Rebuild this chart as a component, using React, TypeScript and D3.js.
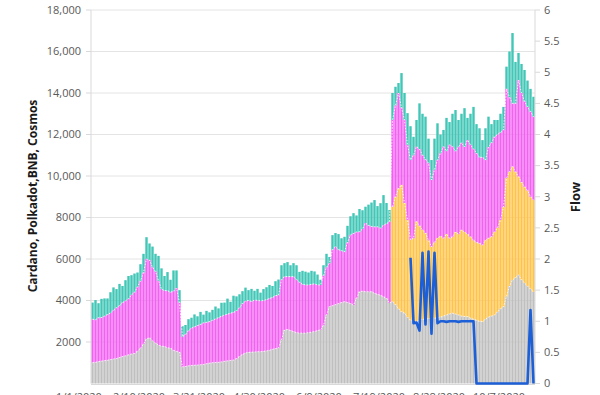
import React, { useEffect, useRef } from 'react'
import * as d3 from 'd3'

// one bar every 2 days
const firstDay = '1/9/2020'
const dayStep = 2

const grayVals = [
  1000, 1020, 1050, 1080, 1100, 1120, 1150, 1180, 1200, 1250,
  1300, 1330, 1380, 1420, 1450, 1550, 1700, 1900, 2150, 2200,
  2050, 1950, 1850, 1800, 1780, 1720, 1700, 1600, 1550, 1500,
  800, 820, 850, 870, 880, 890, 900, 920, 950, 980,
  1000, 1010, 1020, 1040, 1070, 1090, 1110, 1130, 1200, 1300,
  1400, 1470, 1500, 1510, 1520, 1530, 1530, 1550, 1570, 1600,
  1650, 1680, 1710, 2100, 2580, 2600, 2550, 2500, 2450, 2430,
  2430, 2430, 2450, 2480, 2500, 2550, 2580, 2800, 3300, 3700,
  3750, 3800, 3850, 3900, 3940, 3900, 3850, 3780, 4100, 4420,
  4450, 4420, 4420, 4420, 4350, 4300, 4250, 4180, 4100, 3880,
  3940, 3800, 3600, 3450, 3390, 3200, 3050, 2980, 3000, 3050,
  3100, 3100, 3120, 3150, 3150, 3180, 3200, 3250, 3300, 3350,
  3390, 3350, 3300, 3250, 3230, 3220, 3150, 3100, 3050, 3000,
  2980, 3100, 3200, 3250, 3300, 3450, 3600, 3700, 4200, 4700,
  4990, 5100, 5230, 5000, 4840, 4700, 4550, 4420
]

const orangeVals = [
  0, 0, 0, 0, 0, 0, 0, 0, 0, 0,
  0, 0, 0, 0, 0, 0, 0, 0, 0, 0,
  0, 0, 0, 0, 0, 0, 0, 0, 0, 0,
  0, 0, 0, 0, 0, 0, 0, 0, 0, 0,
  0, 0, 0, 0, 0, 0, 0, 0, 0, 0,
  0, 0, 0, 0, 0, 0, 0, 0, 0, 0,
  0, 0, 0, 0, 0, 0, 0, 0, 0, 0,
  0, 0, 0, 0, 0, 0, 0, 0, 0, 0,
  0, 0, 0, 0, 0, 0, 0, 0, 0, 0,
  0, 0, 0, 0, 0, 0, 0, 0, 0, 0,
  4580, 5200, 5800, 6120, 5310, 4680, 3870, 4020, 4800, 4550,
  4300, 4150, 3780, 3440, 3650, 3830, 3900, 3750, 3900, 3650,
  3680, 3950, 3900, 4150, 4070, 3980, 3920, 3800, 3750, 3750,
  3690, 3800, 3800, 3820, 4000, 4050, 4280, 4800, 5700, 5500,
  5460, 5100, 4740, 4700, 4640, 4600, 4450, 4420
]

const magentaVals = [
  2100, 2050, 2120, 2100, 2150, 2200, 2250, 2350, 2450, 2500,
  2600, 2650, 2700, 2850, 2950, 3100, 3250, 3450, 3850, 3750,
  3550, 3450, 3100, 2750, 2700, 2750, 2700, 2850, 3050, 2400,
  1460, 1550, 1700, 1800, 1850, 1900, 1950, 2000, 2000, 2000,
  2050, 2100, 2150, 2200, 2230, 2250, 2280, 2300, 2300, 2350,
  2450, 2500, 2500, 2450, 2500, 2480, 2450, 2450, 2470, 2500,
  2500, 2550, 2550, 2900, 2570, 2550, 2600, 2650, 2550, 2450,
  2350, 2320, 2300, 2300, 2300, 2200, 2170, 2400, 2300, 2100,
  2700, 2790, 2600, 2500, 2410, 2900, 3310, 3450, 3200, 2890,
  3000, 3310, 3200, 3150, 3200, 3250, 3240, 3450, 3600, 3920,
  4180, 4400, 4600, 3730, 4000, 3620, 3850, 4000, 3610, 3700,
  3600, 3550, 3720, 3220, 3500, 3760, 4000, 4410, 4000, 4500,
  4340, 3900, 4210, 4200, 4100, 4530, 4430, 4400, 4300, 4150,
  4230, 3870, 4400, 4530, 4590, 4500, 4220, 3720, 4300, 3600,
  3050, 3300, 4650, 4300, 4120, 4030, 4100, 4020
]

const tealVals = [
  800, 950, 700, 900, 850, 780, 1000, 1100, 900, 1050,
  800, 1000, 1100, 950, 900, 700, 800, 900, 1050, 800,
  1000, 850, 1200, 1000, 700, 900, 600, 1000, 850, 600,
  500, 450, 550, 500, 600, 450, 600, 400, 550, 450,
  500, 600, 450, 650, 600, 750, 550, 800, 700, 650,
  600, 650, 500, 600, 450, 550, 400, 550, 600, 650,
  550, 700, 750, 700, 650, 700, 550, 650, 700, 500,
  650, 640, 600, 650, 600, 500, 250, 500, 650, 300,
  700, 660, 750, 600, 720, 800, 900, 980, 800, 1100,
  900, 790, 1000, 1150, 1290, 1000, 1200, 1450, 1000, 560,
  1300, 900, 480, 1660, 1300, 1530, 1630, 890, 1290, 2200,
  2000, 2060, 1180, 960, 1500, 1770, 900, 810, 1600, 1100,
  1590, 1980, 1290, 1400, 1870, 1070, 1500, 2030, 1400, 1400,
  830, 1530, 1460, 900, 810, 700, 900, 1110, 1070, 2200,
  3390, 2000, 1310, 1400, 1510, 1270, 1100, 960
]

// flow only starts at bar 106
const flowFrom = 106
const flowVals = [
  2.02, 0.97, 0.98, 0.85, 2.1, 0.95, 2.12, 0.8, 2.1, 0.97,
  1.0, 1.0, 0.99, 1.0, 1.0, 1.0, 0.99, 1.0, 1.0, 1.0,
  1.0, 1.0, 0, 0, 0, 0, 0, 0, 0, 0,
  0, 0, 0, 0, 0, 0, 0, 0, 0, 0,
  1.18, 0
]

const xTickLabels = ['1/1/2020', '2/10/2020', '3/21/2020', '4/30/2020', '6/9/2020', '7/19/2020', '8/28/2020', '10/7/2020']
const leftTicks = [2000, 4000, 6000, 8000, 10000, 12000, 14000, 16000, 18000]
const rightTicks = [0, 0.5, 1, 1.5, 2, 2.5, 3, 3.5, 4, 4.5, 5, 5.5, 6]

const colors: Record<string, string> = {
  gray: '#bfbfbf',
  orange: '#ffc34a',
  magenta: '#f261f2',
  teal: '#42c6b7'
}

export default function App() {
  const ref = useRef<SVGSVGElement>(null)

  useEffect(() => {
    const svg = d3.select(ref.current)
    svg.selectAll('*').remove()

    const left = 91, right = 535, top = 10, bottom = 383.5
    const font = '"Open Sans", sans-serif'
    const parse = d3.timeParse('%m/%d/%Y')
    const start = parse(firstDay) as Date
    const dates = grayVals.map((_, i) => d3.timeDay.offset(start, i * dayStep))
    const end = d3.timeDay.offset(start, grayVals.length * dayStep)

    const x = d3.scaleTime().domain([start, end]).range([left, right])
    const y = d3.scaleLinear().domain([0, 18000]).range([bottom, top])
    const y2 = d3.scaleLinear().domain([0, 6]).range([bottom, top])
    const step = x(dates[1]) - x(dates[0])

    const rows = dates.map((d, i) => ({
      date: d,
      gray: grayVals[i],
      orange: orangeVals[i],
      magenta: magentaVals[i],
      teal: tealVals[i]
    }))
    const keys = ['gray', 'orange', 'magenta', 'teal']
    const series = d3.stack<any>().keys(keys)(rows)

    // grid
    svg.append('g')
      .selectAll('line')
      .data(leftTicks)
      .enter().append('line')
      .attr('x1', left).attr('x2', right)
      .attr('y1', d => y(d)).attr('y2', d => y(d))
      .attr('stroke', '#e4e4e4')

    // bars
    series.forEach(s => {
      svg.append('g')
        .attr('fill', colors[s.key])
        .selectAll('rect')
        .data(s.filter(d => d[1] - d[0] > 0))
        .enter().append('rect')
        .attr('x', d => x(d.data.date) + 0.3)
        .attr('width', step - 0.6)
        .attr('y', d => y(d[1]))
        .attr('height', d => y(d[0]) - y(d[1]))
    })

    // white dotted edges on layer tops
    const edge = d3.line<any>()
      .defined(d => d[1] - d[0] > 0)
      .x(d => x(d.data.date) + step / 2)
      .y(d => y(d[1]))
    series.slice(0, 3).forEach(s => {
      svg.append('path')
        .attr('d', edge(s as any))
        .attr('fill', 'none')
        .attr('stroke', '#fff')
        .attr('stroke-width', 1)
        .attr('stroke-dasharray', '1.5,1.5')
        .attr('opacity', 0.85)
    })

    // axis lines + ticks
    const axisCol = '#d9d9d9'
    svg.append('line').attr('x1', left).attr('x2', left).attr('y1', top).attr('y2', bottom).attr('stroke', axisCol)
    svg.append('line').attr('x1', right).attr('x2', right).attr('y1', top).attr('y2', bottom).attr('stroke', axisCol)
    svg.append('line').attr('x1', left).attr('x2', right).attr('y1', bottom + 1).attr('y2', bottom + 1).attr('stroke', axisCol)

    svg.append('g').selectAll('line').data(leftTicks).enter().append('line')
      .attr('x1', left - 5).attr('x2', left).attr('y1', d => y(d)).attr('y2', d => y(d)).attr('stroke', axisCol)
    svg.append('g').selectAll('line').data(rightTicks).enter().append('line')
      .attr('x1', right).attr('x2', right + 5).attr('y1', d => y2(d)).attr('y2', d => y2(d)).attr('stroke', axisCol)

    // flow line
    const flowLine = d3.line<number>()
      .x((_, i) => x(dates[flowFrom + i]) + step / 2)
      .y(d => y2(d))
    svg.append('path')
      .attr('d', flowLine(flowVals))
      .attr('fill', 'none')
      .attr('stroke', '#1c5fd6')
      .attr('stroke-width', 2.6)
      .attr('stroke-linejoin', 'round')

    // tick labels
    const fmtLeft = (v: number) => (v >= 10000 ? d3.format(',')(v) : String(v))
    svg.append('g').selectAll('text').data(leftTicks).enter().append('text')
      .attr('x', 81).attr('y', d => y(d)).attr('dy', '0.35em')
      .attr('text-anchor', 'end')
      .attr('font-family', font).attr('font-size', 11).attr('fill', '#595959')
      .text(d => fmtLeft(d))
    svg.append('g').selectAll('text').data(rightTicks).enter().append('text')
      .attr('x', 544).attr('y', d => y2(d)).attr('dy', '0.35em')
      .attr('font-family', font).attr('font-size', 11).attr('fill', '#595959')
      .text(d => String(d))
    svg.append('g').selectAll('text').data(xTickLabels).enter().append('text')
      .attr('x', d => x(parse(d) as Date)).attr('y', 401)
      .attr('text-anchor', 'middle')
      .attr('font-family', font).attr('font-size', 11).attr('fill', '#595959')
      .text(d => d)

    // axis titles
    svg.append('text')
      .attr('transform', 'translate(37,196) rotate(-90)')
      .attr('text-anchor', 'middle')
      .attr('font-family', font).attr('font-size', 12).attr('font-weight', 'bold').attr('fill', '#1a1a1a')
      .text('Cardano, Polkadot,BNB, Cosmos')
    svg.append('text')
      .attr('transform', 'translate(580,197) rotate(-90)')
      .attr('text-anchor', 'middle')
      .attr('font-family', font).attr('font-size', 13).attr('font-weight', 'bold').attr('fill', '#1a1a1a')
      .text('Flow')
  }, [])

  return <svg ref={ref} width={600} height={420} style={{ position: 'absolute', left: 0, top: 0, background: '#fff' }} />
}
